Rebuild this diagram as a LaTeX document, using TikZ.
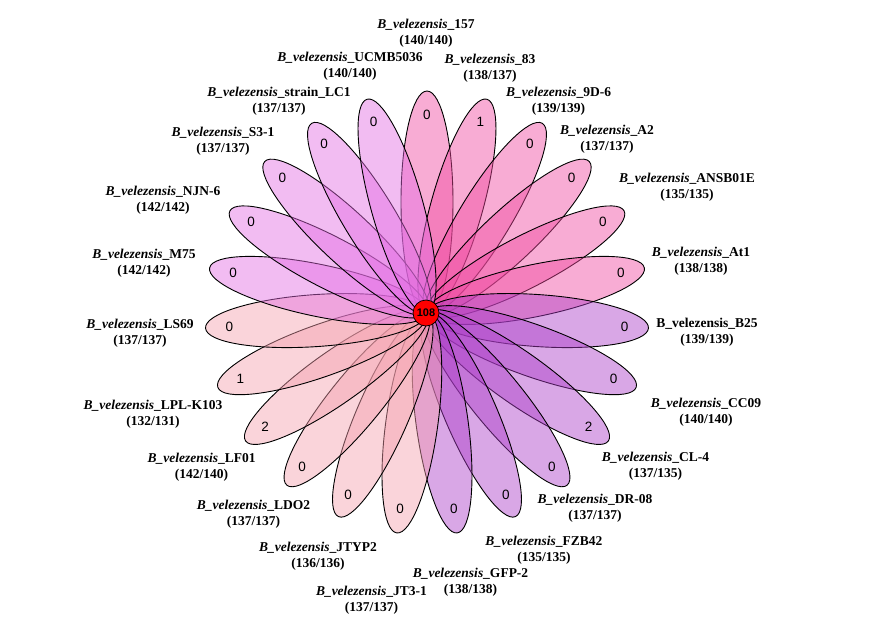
\documentclass[tikz,border=0pt]{standalone}
\usepackage{fontspec}
\setmainfont{Liberation Serif}
\newfontfamily\numfont{Liberation Sans}
\usepackage{tikz}
\usetikzlibrary{shapes.geometric}
\definecolor{PetalPink}{RGB}{239, 71, 159}
\definecolor{PetalPurple}{RGB}{171, 59, 199}
\definecolor{PetalPeach}{RGB}{244, 159, 173}
\definecolor{PetalLilac}{RGB}{226, 106, 226}
\definecolor{CoreRed}{RGB}{255, 0, 0}
\begin{document}
\begin{tikzpicture}[x=1pt, y=1pt,
            petal/.style={ellipse, draw=black, line width=0.9pt, fill opacity=0.45, draw opacity=1, minimum width=222pt, minimum height=52pt, inner sep=0pt},
            count/.style={font=\numfont\fontsize{13.5}{13.5}\selectfont, inner sep=0pt},
            strain/.style={align=center, inner sep=0pt, font=\fontsize{13.5}{16}\selectfont\bfseries},
        ]
            \useasboundingbox (-427,-308) rectangle (452,313);
            % petals, clockwise from the top
            \node[petal, fill=PetalPink, rotate=90] (p157) at (90:111) {};
            \node[petal, fill=PetalPink, rotate=74.35] (p83) at (74.35:111) {};
            \node[petal, fill=PetalPink, rotate=58.70] (p9D6) at (58.70:111) {};
            \node[petal, fill=PetalPink, rotate=43.04] (pA2) at (43.04:111) {};
            \node[petal, fill=PetalPink, rotate=27.39] (pANSB) at (27.39:111) {};
            \node[petal, fill=PetalPink, rotate=11.74] (pAt1) at (11.74:111) {};
            \node[petal, fill=PetalPurple, rotate=-3.91] (pB25) at (-3.91:111) {};
            \node[petal, fill=PetalPurple, rotate=-19.57] (pCC09) at (-19.57:111) {};
            \node[petal, fill=PetalPurple, rotate=-35.22] (pCL4) at (-35.22:111) {};
            \node[petal, fill=PetalPurple, rotate=-50.87] (pDR08) at (-50.87:111) {};
            \node[petal, fill=PetalPurple, rotate=-66.52] (pFZB42) at (-66.52:111) {};
            \node[petal, fill=PetalPurple, rotate=-82.17] (pGFP2) at (-82.17:111) {};
            \node[petal, fill=PetalPeach, rotate=-97.83] (pJT31) at (-97.83:111) {};
            \node[petal, fill=PetalPeach, rotate=-113.48] (pJTYP2) at (-113.48:111) {};
            \node[petal, fill=PetalPeach, rotate=-129.13] (pLDO2) at (-129.13:111) {};
            \node[petal, fill=PetalPeach, rotate=-144.78] (pLF01) at (-144.78:111) {};
            \node[petal, fill=PetalPeach, rotate=-160.43] (pLPL) at (-160.43:111) {};
            \node[petal, fill=PetalPeach, rotate=-176.09] (pLS69) at (-176.09:111) {};
            \node[petal, fill=PetalLilac, rotate=-191.74] (pM75) at (-191.74:111) {};
            \node[petal, fill=PetalLilac, rotate=-207.39] (pNJN6) at (-207.39:111) {};
            \node[petal, fill=PetalLilac, rotate=-223.04] (pS31) at (-223.04:111) {};
            \node[petal, fill=PetalLilac, rotate=-238.70] (pLC1) at (-238.70:111) {};
            \node[petal, fill=PetalLilac, rotate=-254.35] (pUCMB) at (-254.35:111) {};
            % unique counts
            \node[count] (n157) at (90:198) {0};
            \node[count] (n83) at (74.35:198) {1};
            \node[count] (n9D6) at (58.70:198) {0};
            \node[count] (nA2) at (43.04:198) {0};
            \node[count] (nANSB) at (27.39:198) {0};
            \node[count] (nAt1) at (11.74:198) {0};
            \node[count] (nB25) at (-3.91:198) {0};
            \node[count] (nCC09) at (-19.57:198) {0};
            \node[count] (nCL4) at (-35.22:198) {2};
            \node[count] (nDR08) at (-50.87:198) {0};
            \node[count] (nFZB42) at (-66.52:198) {0};
            \node[count] (nGFP2) at (-82.17:198) {0};
            \node[count] (nJT31) at (-97.83:198) {0};
            \node[count] (nJTYP2) at (-113.48:198) {0};
            \node[count] (nLDO2) at (-129.13:198) {0};
            \node[count] (nLF01) at (-144.78:198) {2};
            \node[count] (nLPL) at (-160.43:198) {1};
            \node[count] (nLS69) at (-176.09:198) {0};
            \node[count] (nM75) at (-191.74:198) {0};
            \node[count] (nNJN6) at (-207.39:198) {0};
            \node[count] (nS31) at (-223.04:198) {0};
            \node[count] (nLC1) at (-238.70:198) {0};
            \node[count] (nUCMB) at (-254.35:198) {0};
            % core
            \node[circle, draw=black, line width=0.7pt, fill=CoreRed, minimum size=26pt, inner sep=0pt, font=\numfont\fontsize{11}{11}\selectfont\bfseries] (core) at (-1,0) {108};
            % strain labels
            \node[strain] (l157) at (-1,280) {\textit{B\_velezensis}\_157\\(140/140)};
            \node[strain] (l83) at (63,244.5) {\textit{B\_velezensis}\_83\\(138/137)};
            \node[strain] (l9D6) at (131.6,212) {\textit{B\_velezensis}\_9D-6\\(139/139)};
            \node[strain] (lA2) at (180,174) {\textit{B\_velezensis}\_A2\\(137/137)};
            \node[strain] (lANSB) at (260,126) {\textit{B\_velezensis}\_ANSB01E\\(135/135)};
            \node[strain] (lAt1) at (274,52) {\textit{B\_velezensis}\_At1\\(138/138)};
            \node[strain] (lB25) at (280,-19.5) {B\_velezensis\_B25\\(139/139)};
            \node[strain] (lCC09) at (279,-99) {\textit{B\_velezensis}\_CC09\\(140/140)};
            \node[strain] (lCL4) at (228.5,-153) {\textit{B\_velezensis}\_CL-4\\(137/135)};
            \node[strain] (lDR08) at (168,-195) {\textit{B\_velezensis}\_DR-08\\(137/137)};
            \node[strain] (lFZB42) at (117,-237.5) {\textit{B\_velezensis}\_FZB42\\(135/135)};
            \node[strain] (lGFP2) at (43.5,-269.5) {\textit{B\_velezensis}\_GFP-2\\(138/138)};
            \node[strain] (lJT31) at (-55.5,-287) {\textit{B\_velezensis}\_JT3-1\\(137/137)};
            \node[strain] (lJTYP2) at (-109,-243.5) {\textit{B\_velezensis}\_JTYP2\\(136/136)};
            \node[strain] (lLDO2) at (-173.5,-201) {\textit{B\_velezensis}\_LDO2\\(137/137)};
            \node[strain] (lLF01) at (-225.4,-154) {\textit{B\_velezensis}\_LF01\\(142/140)};
            \node[strain] (lLPL) at (-274,-101) {\textit{B\_velezensis}\_LPL-K103\\(132/131)};
            \node[strain] (lLS69) at (-287,-20) {\textit{B\_velezensis}\_LS69\\(137/137)};
            \node[strain] (lM75) at (-283,50) {\textit{B\_velezensis}\_M75\\(142/142)};
            \node[strain] (lNJN6) at (-264,112.5) {\textit{B\_velezensis}\_NJN-6\\(142/142)};
            \node[strain] (lS31) at (-204,172) {\textit{B\_velezensis}\_S3-1\\(137/137)};
            \node[strain] (lLC1) at (-148,212) {\textit{B\_velezensis}\_strain\_LC1\\(137/137)};
            \node[strain] (lUCMB) at (-77,246.5) {\textit{B\_velezensis}\_UCMB5036\\(140/140)};
        \end{tikzpicture}
\end{document}
